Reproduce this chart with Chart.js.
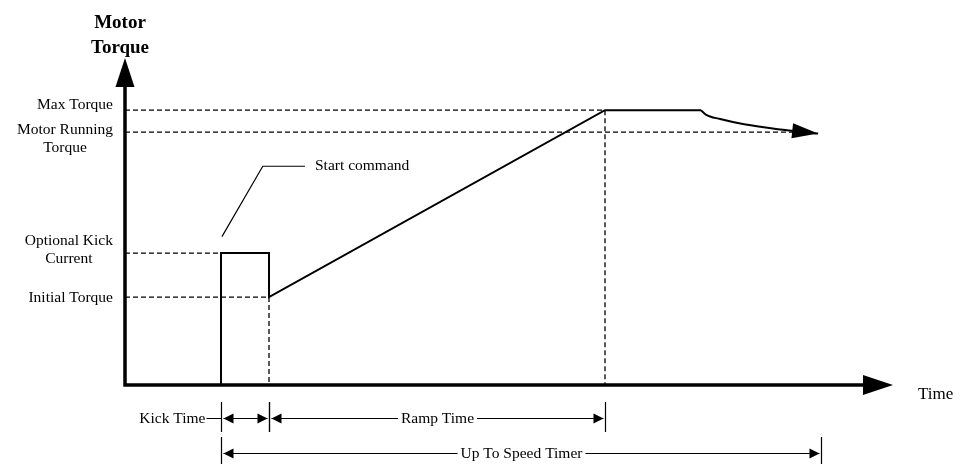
<!DOCTYPE html>
<html>
<head>
<meta charset="utf-8">
<script src="https://cdn.jsdelivr.net/npm/chart.js"></script>
<style>
  body { margin: 0; background: #fff; }
  #wrap { width: 968px; height: 464px; }
</style>
</head>
<body>
<div id="wrap"><canvas id="torqueChart" width="968" height="464"></canvas></div>
<script>
// torque profile (time in arbitrary units, torque in % of max)
const torqueTime = [2, 2, 3, 3, 10, 12];
const torqueValue = [0, 48, 48, 32, 100, 100];
// decay back down to running torque after reaching speed
const decayTime = [12, 12.1, 12.4, 12.9, 13.6, 14.44];
const decayValue = [100, 98.4, 96.8, 94.9, 93.1, 91.5];

// reference levels on the torque axis
const levelLabels = [['Max Torque'], ['Motor Running', 'Torque'], ['Optional Kick', 'Current'], ['Initial Torque']];
const levelValues = [100, 92, 48, 32];
const levelEnds = [10, 13.9, 2, 3];
// dashed drops from the curve to the time axis
const dropTimes = [3, 10];
const dropValues = [32, 100];

// "Start command" callout leader
const calloutTime = [2.02, 2.87, 3.75];
const calloutValue = [54, 79.6, 79.6];
const calloutText = 'Start command';

// timing spans under the time axis
const spanLabels = ['Kick Time', 'Ramp Time', 'Up To Speed Timer'];
const spanStart = [2, 3, 2];
const spanEnd = [3, 10, 14.5];
const spanRow = [0, 0, 1];

const SERIF = "'Liberation Serif', 'Times New Roman', serif";

function arrowHead(ctx, tx, ty, dx, dy, len, half) {
    const d = Math.hypot(dx, dy);
    const ux = dx / d, uy = dy / d;
    const bx = tx - ux * len, by = ty - uy * len;
    ctx.beginPath();
    ctx.moveTo(tx, ty);
    ctx.lineTo(bx - uy * half, by + ux * half);
    ctx.lineTo(bx + uy * half, by - ux * half);
    ctx.closePath();
    ctx.fill();
}

const diagramPlugin = {
    id: 'diagram',
    afterDraw(chart) {
        const ctx = chart.ctx;
        const area = chart.chartArea;
        const xs = chart.scales.x;
        const ys = chart.scales.y;
        ctx.save();
        ctx.fillStyle = '#000';
        ctx.strokeStyle = '#000';

        // axes with arrows
        ctx.lineWidth = 3.5;
        ctx.beginPath();
        ctx.moveTo(area.left, area.top + 25);
        ctx.lineTo(area.left, area.bottom);
        ctx.lineTo(area.right - 26, area.bottom);
        ctx.stroke();
        arrowHead(ctx, area.left, area.top, 0, -1, 29, 9.5);
        arrowHead(ctx, area.right, area.bottom, 1, 0, 30, 10);

        // arrow at end of the decay curve
        const n = decayTime.length;
        const tx = xs.getPixelForValue(decayTime[n - 1]);
        const ty = ys.getPixelForValue(decayValue[n - 1]);
        const px = xs.getPixelForValue(decayTime[n - 2]);
        const py = ys.getPixelForValue(decayValue[n - 2]);
        arrowHead(ctx, tx, ty, tx - px, ty - py, 26, 7.5);

        // axis titles
        ctx.font = 'bold 19px ' + SERIF;
        ctx.textAlign = 'center';
        ctx.textBaseline = 'alphabetic';
        ctx.fillText('Motor', area.left - 5, area.top - 30);
        ctx.fillText('Torque', area.left - 5, area.top - 5);
        ctx.font = '17px ' + SERIF;
        ctx.textAlign = 'left';
        ctx.fillText('Time', area.right + 25, area.bottom + 14);

        // level labels
        const nudge = [-1, 2, -8, 5];
        ctx.font = '15.5px ' + SERIF;
        ctx.textAlign = 'center';
        levelLabels.forEach((lines, i) => {
            const w = Math.max(...lines.map(l => ctx.measureText(l).width));
            const cx = area.left - 12 - w / 2;
            const y0 = ys.getPixelForValue(levelValues[i]) + nudge[i];
            lines.forEach((l, j) => ctx.fillText(l, cx, y0 + j * 18));
        });

        // callout text
        ctx.textAlign = 'left';
        ctx.textBaseline = 'middle';
        ctx.fillText(calloutText,
            xs.getPixelForValue(calloutTime[2]) + 10,
            ys.getPixelForValue(calloutValue[2]));

        // timing spans
        const rowY = [418, 453];
        const rowTick = [[402, 432], [437, 464]];
        ctx.lineWidth = 1.2;
        spanLabels.forEach((label, i) => {
            const x0 = Math.round(xs.getPixelForValue(spanStart[i])) + 0.5;
            const x1 = Math.round(xs.getPixelForValue(spanEnd[i])) + 0.5;
            const y = rowY[spanRow[i]] + 0.5;
            const t = rowTick[spanRow[i]];
            ctx.beginPath();
            ctx.moveTo(x0, t[0]); ctx.lineTo(x0, t[1]);
            ctx.moveTo(x1, t[0]); ctx.lineTo(x1, t[1]);
            ctx.stroke();
            const w = ctx.measureText(label).width;
            ctx.beginPath();
            if (w > x1 - x0 - 30) {
                ctx.textAlign = 'right';
                ctx.fillText(label, x0 - 16, y);
                ctx.moveTo(x0 - 15, y); ctx.lineTo(x0, y);
                ctx.moveTo(x0 + 2, y); ctx.lineTo(x1 - 2, y);
            } else {
                const cx = (x0 + x1) / 2;
                ctx.textAlign = 'center';
                ctx.fillText(label, cx, y);
                ctx.moveTo(x0 + 2, y); ctx.lineTo(cx - w / 2 - 3, y);
                ctx.moveTo(cx + w / 2 + 3, y); ctx.lineTo(x1 - 2, y);
            }
            ctx.stroke();
            arrowHead(ctx, x0 + 2, y, -1, 0, 10, 5);
            arrowHead(ctx, x1 - 2, y, 1, 0, 10, 5);
        });
        ctx.restore();
    }
};

const dashed = { borderColor: '#000', borderWidth: 1.3, borderDash: [5, 3], pointRadius: 0, showLine: true, fill: false };
const datasets = [];
levelValues.forEach((v, i) => {
    datasets.push(Object.assign({ data: [{ x: 0, y: v }, { x: levelEnds[i], y: v }] }, dashed));
});
dropTimes.forEach((t, i) => {
    datasets.push(Object.assign({ data: [{ x: t, y: dropValues[i] }, { x: t, y: 0 }] }, dashed));
});
datasets.push({
    data: calloutTime.map((t, i) => ({ x: t, y: calloutValue[i] })),
    borderColor: '#000', borderWidth: 1.2, pointRadius: 0, showLine: true
});
datasets.push({
    data: torqueTime.map((t, i) => ({ x: t, y: torqueValue[i] })),
    borderColor: '#000', borderWidth: 2, pointRadius: 0, showLine: true, tension: 0,
    borderJoinStyle: 'miter'
});
datasets.push({
    data: decayTime.map((t, i) => ({ x: t, y: decayValue[i] })),
    borderColor: '#000', borderWidth: 2, pointRadius: 0, showLine: true,
    cubicInterpolationMode: 'monotone'
});

new Chart(document.getElementById('torqueChart').getContext('2d'), {
    type: 'scatter',
    data: { datasets: datasets },
    options: {
        responsive: false,
        animation: false,
        layout: { padding: { left: 125, right: 75, top: 58, bottom: 79 } },
        plugins: { legend: { display: false }, tooltip: { enabled: false } },
        scales: {
            x: { type: 'linear', min: 0, max: 16, display: false },
            y: { type: 'linear', min: 0, max: 119, display: false }
        }
    },
    plugins: [diagramPlugin]
});
</script>
</body>
</html>
